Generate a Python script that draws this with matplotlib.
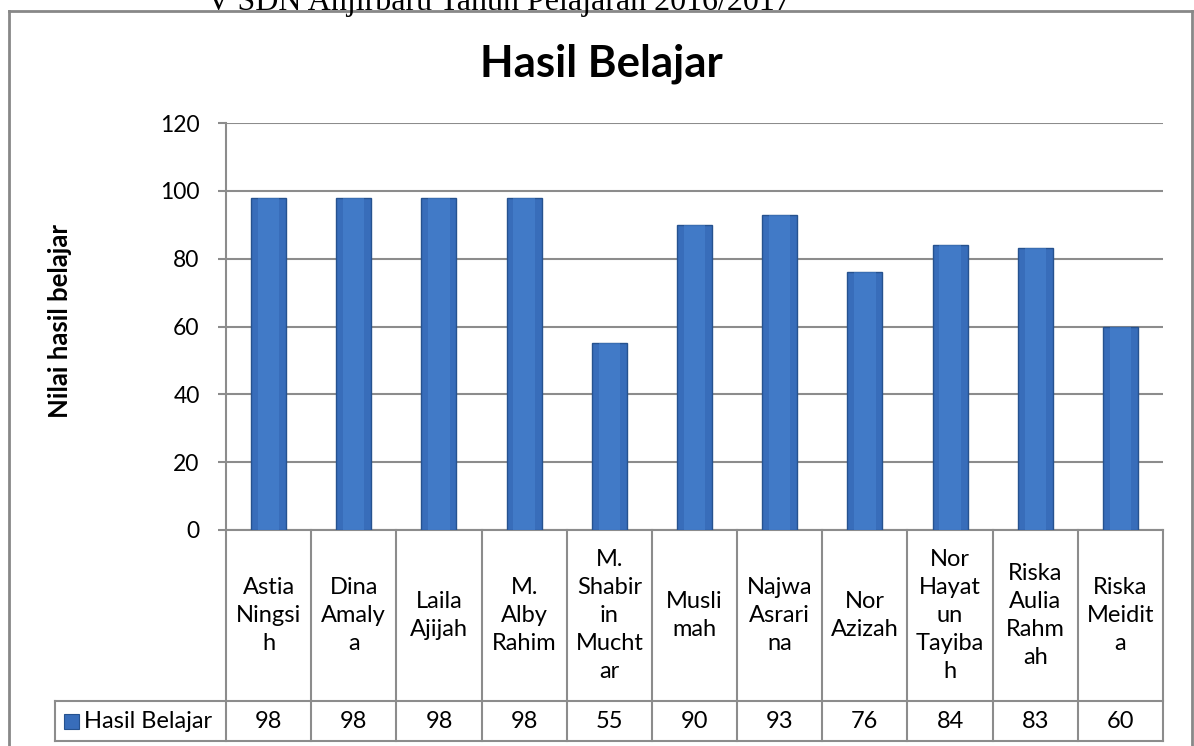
import matplotlib
matplotlib.use("Agg")
import matplotlib.pyplot as plt
from matplotlib.lines import Line2D
from matplotlib.patches import Rectangle
import matplotlib.transforms as mtransforms

categories = ["Astia\nNingsi\nh", "Dina\nAmaly\na", "Laila\nAjijah", "M.\nAlby\nRahim",
              "M.\nShabir\nin\nMucht\nar", "Musli\nmah", "Najwa\nAsrari\nna", "Nor\nAzizah",
              "Nor\nHayat\nun\nTayiba\nh", "Riska\nAulia\nRahm\nah", "Riska\nMeidit\na"]
values = [98, 98, 98, 98, 55, 90, 93, 76, 84, 83, 60]
series_name = "Hasil Belajar"
title = "Hasil Belajar"
ylabel = "Nilai hasil belajar"
yticks = [0, 20, 40, 60, 80, 100, 120]
doc_text = "V SDN Anjirbaru Tahun Pelajaran 2016/2017"

W, H = 1194, 746
fig = plt.figure(figsize=(W / 100, H / 100), dpi=100)
fig.patch.set_facecolor("white")

def fx(px):
    return px / W

def fy(py):
    return 1 - py / H

FONT = "Lato"
GRID = "#8c8c8c"
FS = 16.5

# axes
ax_l, ax_r, ax_t, ax_b = 226, 1163, 123, 530
ax = fig.add_axes([fx(ax_l), fy(ax_b), fx(ax_r) - fx(ax_l), fy(ax_t) - fy(ax_b)])
ax.set_xlim(-0.5, len(values) - 0.5)
ax.set_ylim(0, 120)
ax.set_yticks(yticks)
ax.set_yticklabels([str(t) for t in yticks], fontsize=FS, family=FONT, color="black")
ax.tick_params(axis="y", length=6, width=1.5, color=GRID, pad=13)
ax.tick_params(axis="x", length=0, labelbottom=False)
ax.set_xticks([])
for s in ["top", "right"]:
    ax.spines[s].set_visible(False)
ax.spines["left"].set_color(GRID)
ax.spines["left"].set_linewidth(1.5)
ax.spines["bottom"].set_color(GRID)
ax.spines["bottom"].set_linewidth(1.5)
ax.yaxis.grid(True, color=GRID, linewidth=1.5)
ax.set_axisbelow(True)

x = list(range(len(values)))
ax.bar(x, values, width=0.41, color="#386dba", edgecolor="#26528f", linewidth=1.0, zorder=3)
# lighter inner highlight for bevel look
ax.bar(x, values, width=0.25, color="#4a86d2", linewidth=0, zorder=3.5, alpha=0.55)

# table below axes
trans = mtransforms.blended_transform_factory(ax.transData, ax.transAxes)
h_px = ax_b - ax_t
w_px = ax_r - ax_l

def ay(py):
    return (ax_b - py) / h_px

def axx(px):
    return (px - ax_l) / w_px

row1_bottom = ay(701)
row2_bottom = ay(741)
legend_left = axx(55)

lkw = dict(color=GRID, linewidth=1.5, clip_on=False)
for i in range(len(values) + 1):
    xv = i - 0.5
    ax.add_line(Line2D([xv, xv], [0, row2_bottom], transform=trans, **lkw))
ax.add_line(Line2D([legend_left, 1], [row1_bottom, row1_bottom], transform=ax.transAxes, **lkw))
ax.add_line(Line2D([legend_left, 1], [row2_bottom, row2_bottom], transform=ax.transAxes, **lkw))
ax.add_line(Line2D([legend_left, legend_left], [row1_bottom, row2_bottom], transform=ax.transAxes, **lkw))

mid1 = (0 + row1_bottom) / 2
mid2 = (row1_bottom + row2_bottom) / 2
for i, (c, v) in enumerate(zip(categories, values)):
    ax.text(i, mid1, c, transform=trans, ha="center", va="center", fontsize=17,
            family=FONT, linespacing=1.42)
    ax.text(i, mid2, str(v), transform=trans, ha="center", va="center", fontsize=17, family=FONT)

# legend key in table
key_w = 15 / w_px
key_h = 15 / h_px
ax.add_patch(Rectangle((axx(64), mid2 - key_h / 2), key_w, key_h, transform=ax.transAxes,
                       facecolor="#386dba", edgecolor="#26528f", linewidth=0.8, clip_on=False))
ax.text(axx(84), mid2, series_name, transform=ax.transAxes,
        ha="left", va="center", fontsize=17, family=FONT)

# y label
fig.text(fx(60), fy(321), ylabel, rotation=90, ha="center", va="center",
         fontsize=18.5, fontweight="bold", family=FONT)

# title
fig.text(fx(601), fy(77), title, ha="center", va="baseline", fontsize=31.5,
         fontweight="bold", family=FONT)

# outer chart border
bkw = dict(color="#888888", linewidth=2.0)
fig.add_artist(Line2D([fx(8.5), fx(8.5)], [fy(11), -0.01], transform=fig.transFigure, **bkw))
fig.add_artist(Line2D([fx(1191.5), fx(1191.5)], [fy(11), -0.01], transform=fig.transFigure, **bkw))
fig.add_artist(Line2D([fx(8.5), fx(1191.5)], [fy(11), fy(11)], transform=fig.transFigure, **bkw))

# document text cut off at top
fig.text(fx(207), fy(10), doc_text, ha="left", va="baseline", fontsize=23,
         family="Liberation Serif")

fig.savefig("out.png", dpi=100)
